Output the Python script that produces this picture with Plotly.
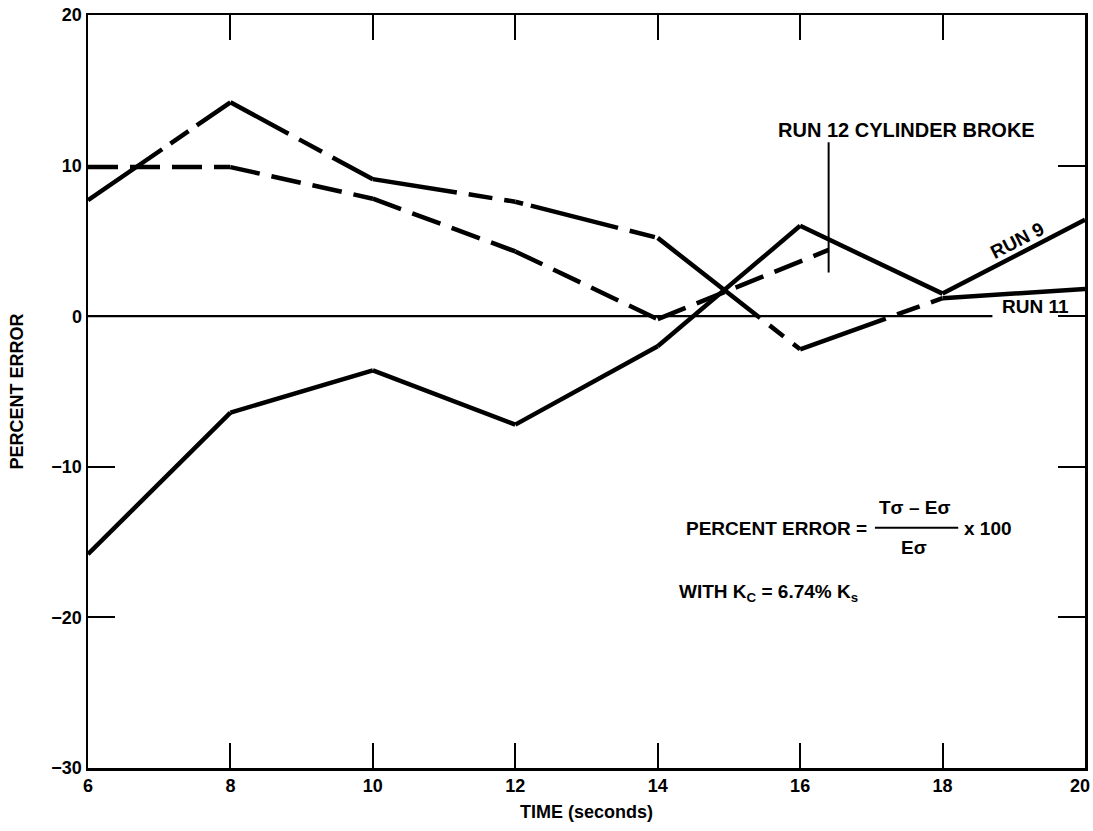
import plotly.graph_objects as go

# ---- data ----
run11_x = [6, 8, 10, 12, 14, 16, 18, 20]
run11_y = [7.7, 14.2, 9.1, 7.6, 5.2, -2.2, 1.2, 1.8]

run12_x = [6, 8, 10, 12, 14, 16.4]
run12_y = [9.9, 9.9, 7.8, 4.3, -0.2, 4.4]

run9_x = [6, 8, 10, 12, 14, 16, 18, 20]
run9_y = [-15.8, -6.4, -3.6, -7.2, -2.0, 6.0, 1.5, 6.4]

x_ticks = [6, 8, 10, 12, 14, 16, 18, 20]
x_ticktext = ["6", "8", "10", "12", "14", "16", "18", "20\u00a0\u00a0"]
y_ticks = [-30, -20, -10, 0, 10, 20]

break_time = 16.4

# ---- styles (per segment dash pattern) ----
run11_dash = ["90px,10px,22px,10px", "66px,12px,26px,12px", "85px,12px,24px,12px",
              "8px,8px,90px,12px,26px,12px", "130px,12px,18px,12px",
              "91px,12px,24px,12px", "solid"]
run12_dash = ["30px,12px"] * (len(run12_x) - 1)
run9_dash = ["solid"] * (len(run9_x) - 1)

FONT = "Liberation Sans, Arial, Helvetica, sans-serif"
LW = 4.5

fig = go.Figure()

def add_series(xs, ys, dashes):
    for i in range(len(xs) - 1):
        fig.add_trace(go.Scatter(
            x=xs[i:i + 2], y=ys[i:i + 2], mode="lines",
            line=dict(color="black", width=LW, dash=dashes[i]),
            hoverinfo="skip", showlegend=False))

add_series(run12_x, run12_y, run12_dash)
add_series(run11_x, run11_y, run11_dash)
add_series(run9_x, run9_y, run9_dash)

# zero reference line (stops at the RUN 11 label)
fig.add_shape(type="line", x0=6, x1=18.7, y0=0, y1=0, xref="x", yref="y",
              line=dict(color="black", width=2.2))
# cylinder broke marker
fig.add_shape(type="line", x0=break_time, x1=break_time, y0=2.9, y1=11.55,
              xref="x", yref="y", line=dict(color="black", width=2))
# fraction bar
fig.add_shape(type="line", x0=17.05, x1=18.22, y0=-14.05, y1=-14.05,
              xref="x", yref="y", line=dict(color="black", width=2))

def ann(text, x, y, xanchor="center", size=19, angle=0):
    fig.add_annotation(text=text, x=x, y=y, xref="x", yref="y",
                       xanchor=xanchor, yanchor="middle", showarrow=False,
                       textangle=angle,
                       font=dict(family=FONT, size=size, color="black", weight="bold"))

ann("RUN 12 CYLINDER BROKE", 17.49, 12.35, size=20)
ann("RUN 9", 19.05, 5.0, size=19, angle=-27)
ann("RUN 11", 19.3, 0.65, size=19)
ann("PERCENT ERROR =", 16.97, -14.1, xanchor="right", size=19)
ann("T\u03c3 \u2013 E\u03c3", 17.6, -12.7, size=19)
ann("E\u03c3", 17.6, -15.35, size=19)
ann("x 100", 18.27, -14.1, xanchor="left", size=19)
ann("WITH K<sub>C</sub> = 6.74% K<sub>s</sub>", 14.27, -18.4, xanchor="left", size=19)

axis_common = dict(
    showline=True, linecolor="black", linewidth=2.5, mirror="ticks",
    ticks="inside", tickcolor="black", tickwidth=2,
    showgrid=False, zeroline=False, ticklabeloverflow="allow",
    tickfont=dict(family=FONT, size=18, color="black", weight="bold"),
)

fig.update_xaxes(range=[6, 20], tickvals=x_ticks, ticktext=x_ticktext, ticklen=25,
                 title=dict(text="TIME (seconds)", standoff=11,
                            font=dict(family=FONT, size=18, color="black", weight="bold")),
                 **axis_common)
fig.update_yaxes(range=[-30, 20], tickvals=y_ticks, ticklen=27,
                 title=dict(text="PERCENT ERROR", standoff=23,
                            font=dict(family=FONT, size=18, color="black", weight="bold")),
                 **axis_common)

fig.update_layout(
    width=1093, height=831,
    margin=dict(l=88, r=8, t=15, b=63, autoexpand=False),
    plot_bgcolor="white", paper_bgcolor="white",
    showlegend=False, hovermode=False,
)

# remove the browser's default page margin so the figure fills the window exactly
fig.write_html(
    "out.html",
    config={"displayModeBar": False, "staticPlot": True},
    post_script="document.body.style.margin='0';"
                "document.documentElement.style.overflow='hidden';"
                "document.body.style.overflow='hidden';",
)
